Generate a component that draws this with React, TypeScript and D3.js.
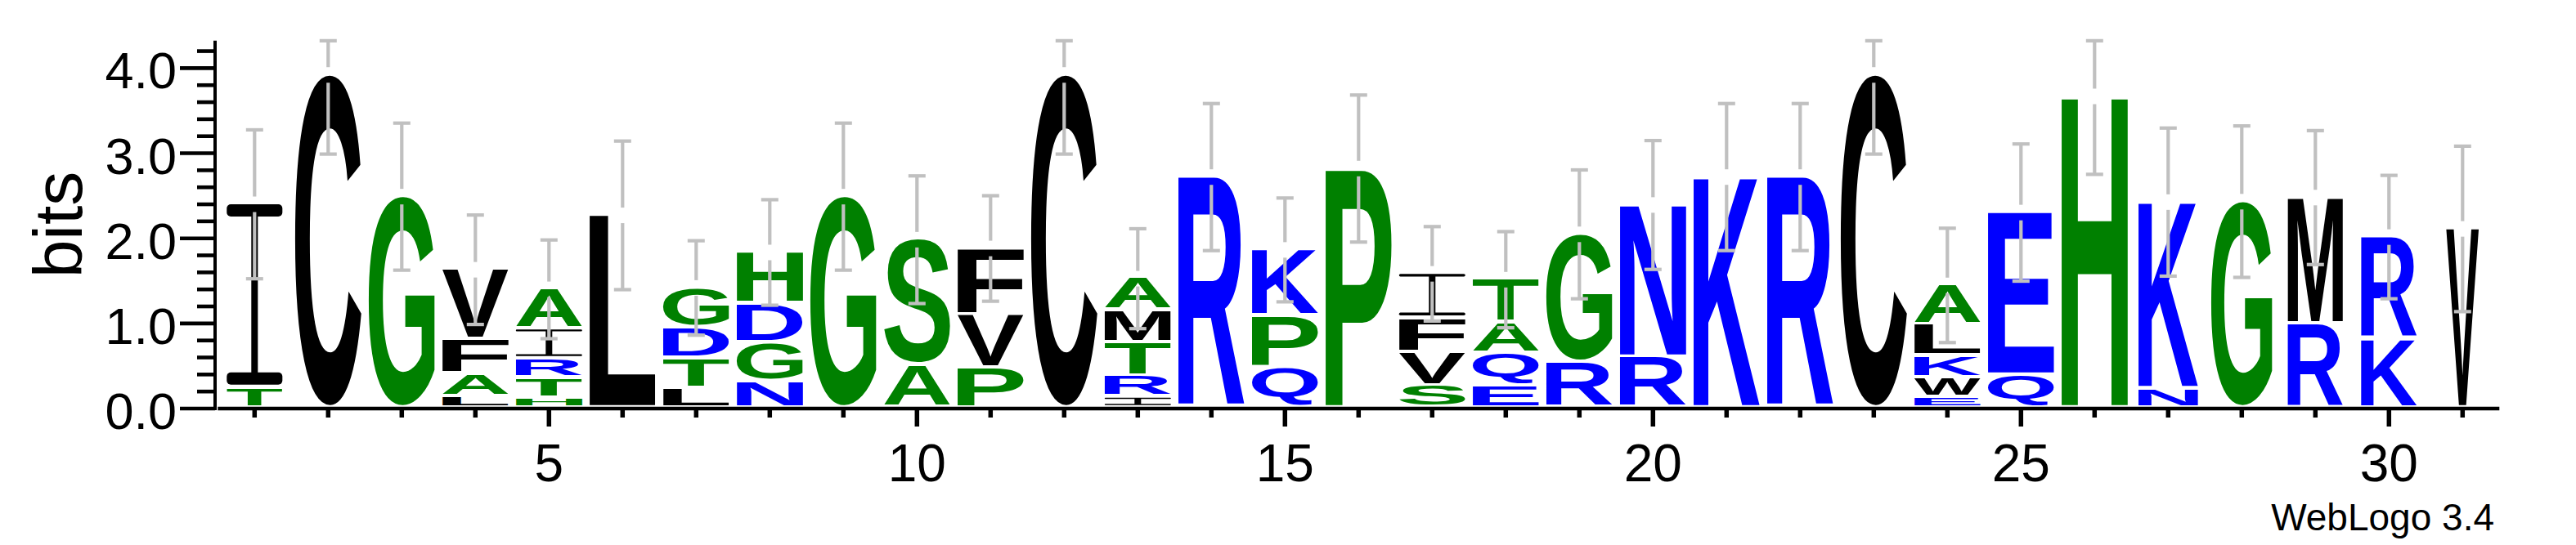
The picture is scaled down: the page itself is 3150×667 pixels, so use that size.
import React, { useEffect, useMemo, useState } from "react";
import * as d3 from "d3";

// ---------- data ----------
const positions: number[] = d3.range(1, 32);

// letters of each stack, bottom to top
const stackLetters: string[] = [
  "TI", "C", "G", "LAFV", "HTRIA", "L", "LTDG", "NGDH", "G", "AS",
  "PVF", "C", "IRTMA", "R", "QPK", "P", "SVFI", "EQAT", "RG", "RN",
  "K", "R", "C", "EWKLA", "QE", "H", "NK", "G", "RM", "KR", "V",
];

// bits of each letter, bottom to top
const stackBits: number[][] = [
  [0.24, 2.16],
  [3.92],
  [2.49],
  [0.134, 0.266, 0.409, 0.822],
  [0.112, 0.24, 0.224, 0.352, 0.473],
  [2.27],
  [0.23, 0.355, 0.358, 0.474],
  [0.31, 0.458, 0.458, 0.608],
  [2.49],
  [0.502, 1.482],
  [0.47, 0.624, 0.787],
  [3.92],
  [0.128, 0.247, 0.393, 0.377, 0.381],
  [2.72],
  [0.47, 0.611, 0.783],
  [2.82],
  [0.262, 0.393, 0.4, 0.528],
  [0.259, 0.384, 0.365, 0.506],
  [0.537, 1.51],
  [0.595, 1.797],
  [2.72],
  [2.72],
  [3.92],
  [0.122, 0.236, 0.25, 0.369, 0.47],
  [0.384, 1.919],
  [3.668],
  [0.226, 2.2],
  [2.431],
  [0.991, 1.488],
  [0.809, 1.206],
  [2.111],
];

// fraction of sequences occupying each column (stack width scaling)
const occupancy: number[] = [
  0.84, 1, 1, 1, 1, 1, 1, 1, 1, 1,
  1, 1, 1, 1, 1, 1, 1, 1, 1, 1,
  1, 1, 1, 1, 1, 1, 0.9, 0.925, 0.835, 0.843, 0.494,
];

// half-length of each error bar, in bits
const errorBits: number[] = [
  0.875, 0.93, 0.864, 0.643, 0.58, 0.873, 0.555, 0.62, 0.864, 0.75,
  0.62, 0.93, 0.587, 0.864, 0.61, 0.864, 0.555, 0.565, 0.757, 0.757,
  0.864, 0.864, 0.93, 0.672, 0.806, 0.916, 0.87, 0.89, 0.787, 0.725, 0.972,
];

const yMajorTicks: number[] = [0, 1, 2, 3, 4];
const yTickLabels: string[] = ["0.0", "1.0", "2.0", "3.0", "4.0"];
const xMajorTicks: number[] = [5, 10, 15, 20, 25, 30];
const xTickLabels: string[] = ["5", "10", "15", "20", "25", "30"];

const hydrophilic = "RKDENQ";
const neutral = "SGHTAP";
const MAX_BITS = Math.log2(20);

const colorOf = (ch: string) =>
  hydrophilic.includes(ch) ? "#0000ff" : neutral.includes(ch) ? "#008000" : "#000000";

const LETTER_FONT = '"Liberation Sans", Arial, Helvetica, sans-serif';
const AXIS_FONT = '"Liberation Sans", Arial, Helvetica, sans-serif';

type Metric = { l: number; r: number; a: number; d: number };

function measure(): Record<string, Metric> {
  const canvas = document.createElement("canvas");
  const ctx = canvas.getContext("2d")!;
  ctx.font = `bold 200px ${LETTER_FONT}`;
  const out: Record<string, Metric> = {};
  for (const ch of "ACDEFGHIKLMNPQRSTVWY") {
    const t = ctx.measureText(ch);
    out[ch] = {
      l: t.actualBoundingBoxLeft,
      r: t.actualBoundingBoxRight,
      a: t.actualBoundingBoxAscent,
      d: t.actualBoundingBoxDescent,
    };
  }
  return out;
}

export default function App() {
  const [ver, setVer] = useState(0);
  useEffect(() => {
    document.body.style.margin = "0";
    (document as any).fonts?.ready?.then(() => setVer((v) => v + 1));
  }, []);
  const metrics = useMemo(() => measure(), [ver]);

  const W = 3150;
  const H = 667;
  const x = d3.scaleLinear().domain([1, 31]).range([311.3, 3011.3]);
  const y = d3.scaleLinear().domain([0, 4]).range([500, 83.4]);
  const step = x(2) - x(1);
  const fullW = 81;
  const pad = 4.2;
  const yMinor = d3.range(0.2, 4.3, 0.2).filter((v) => Math.abs(v - Math.round(v)) > 0.01);

  const letters: React.ReactNode[] = [];
  const bars: React.ReactNode[] = [];
  positions.forEach((p, i) => {
    const chars = stackLetters[i].split("");
    const bits = stackBits[i];
    const letterW = fullW * occupancy[i];
    let cum = 0;
    const x0 = x(p) - letterW / 2;
    chars.forEach((ch, j) => {
      const yBot = y(cum);
      cum += bits[j];
      const yTop = y(cum);
      const h = yBot - pad - yTop;
      if (h <= 0.3) return;
      const fill = colorOf(ch);
      if (ch === "I") {
        const barH = Math.max(0.068 * h, 1.6);
        const stemW = 8;
        const rx = Math.min(barH / 2, 5);
        letters.push(
          <g key={`l${i}-${j}`} fill={fill}>
            <rect x={x0} y={yTop} width={letterW} height={barH} rx={rx} />
            <rect x={x0} y={yTop + h - barH} width={letterW} height={barH} rx={rx} />
            <rect x={x(p) - stemW / 2} y={yTop + barH * 0.5} width={stemW} height={h - barH} />
          </g>
        );
        return;
      }
      const m = metrics[ch];
      const sx = letterW / (m.l + m.r);
      const sy = h / (m.a + m.d);
      letters.push(
        <text
          key={`l${i}-${j}`}
          x={0}
          y={0}
          fontSize={200}
          fontWeight="bold"
          fontFamily={LETTER_FONT}
          fill={fill}
          transform={`translate(${x0},${yTop}) scale(${sx},${sy}) translate(${m.l},${m.a})`}
        >
          {ch}
        </text>
      );
    });
    // error bar
    const total = cum;
    const cy = y(total);
    const top = y(Math.min(total + errorBits[i], MAX_BITS));
    const bot = y(total - errorBits[i]);
    const gap = 9.5;
    const cx = x(p);
    bars.push(
      <g key={`e${i}`} stroke="#c0c0c0" strokeWidth={4.2}>
        {top < cy - gap && <line x1={cx} x2={cx} y1={top} y2={cy - gap} />}
        <line x1={cx} x2={cx} y1={cy + gap} y2={bot} />
        <line x1={cx - 10.5} x2={cx + 10.5} y1={top} y2={top} />
        <line x1={cx - 10.5} x2={cx + 10.5} y1={bot} y2={bot} />
      </g>
    );
  });

  return (
    <svg
      width={W}
      height={H}
      viewBox={`0 0 ${W} ${H}`}
      style={{ position: "absolute", left: 0, top: 0, background: "#fff" }}
    >
      <rect x={0} y={0} width={W} height={H} fill="#fff" />
      {/* y axis */}
      <g stroke="#000">
        <line x1={263} x2={263} y1={y(MAX_BITS)} y2={y(0) + 2} strokeWidth={4} />
        {yMajorTicks.map((v) => (
          <line key={`ym${v}`} x1={220} x2={263} y1={y(v)} y2={y(v)} strokeWidth={4.6} />
        ))}
        {yMinor.map((v) => (
          <line key={`yn${v.toFixed(1)}`} x1={241} x2={263} y1={y(v)} y2={y(v)} strokeWidth={4.6} />
        ))}
      </g>
      <g fontFamily={AXIS_FONT} fontSize={63} textAnchor="end" fill="#000">
        {yMajorTicks.map((v, k) => (
          <text key={`yl${v}`} x={216} y={y(v) + 25}>
            {yTickLabels[k]}
          </text>
        ))}
      </g>
      <text
        transform={`translate(100,275) rotate(-90)`}
        textAnchor="middle"
        fontFamily={AXIS_FONT}
        fontSize={84}
        fill="#000"
      >
        bits
      </text>
      {/* letters */}
      <g>{letters}</g>
      {/* error bars */}
      <g>{bars}</g>
      {/* x axis */}
      <g stroke="#000">
        <line x1={x(1) - step / 2} x2={x(31) + step / 2} y1={500} y2={500} strokeWidth={4.6} />
        {positions.map((p) => (
          <line
            key={`xt${p}`}
            x1={x(p)}
            x2={x(p)}
            y1={500}
            y2={xMajorTicks.includes(p) ? 522 : 511}
            strokeWidth={5.5}
          />
        ))}
      </g>
      <g fontFamily={AXIS_FONT} fontSize={64} textAnchor="middle" fill="#000">
        {xMajorTicks.map((p, k) => (
          <text key={`xl${p}`} x={x(p)} y={589}>
            {xTickLabels[k]}
          </text>
        ))}
      </g>
      <text x={3050} y={649} textAnchor="end" fontFamily={AXIS_FONT} fontSize={46} fill="#000">
        WebLogo 3.4
      </text>
    </svg>
  );
}
